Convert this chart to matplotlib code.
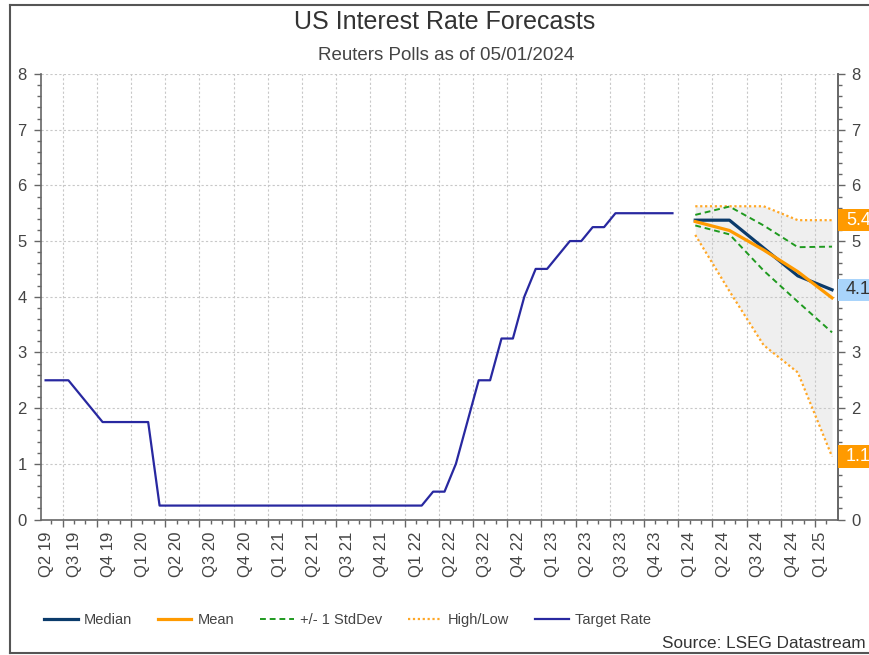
import numpy as np
import matplotlib
matplotlib.use("Agg")
import matplotlib.pyplot as plt
from matplotlib.lines import Line2D
from matplotlib.patches import Rectangle
from matplotlib.ticker import MultipleLocator, FuncFormatter
import matplotlib.transforms as mtransforms

plt.rcParams["font.family"] = ["Liberation Sans", "DejaVu Sans"]

# quarter tick labels along the x axis
quarter_labels = [
    "Q2 19", "Q3 19", "Q4 19", "Q1 20", "Q2 20", "Q3 20", "Q4 20",
    "Q1 21", "Q2 21", "Q3 21", "Q4 21", "Q1 22", "Q2 22", "Q3 22",
    "Q4 22", "Q1 23", "Q2 23", "Q3 23", "Q4 23", "Q1 24", "Q2 24",
    "Q3 24", "Q4 24", "Q1 25",
]

# fed target rate (upper bound), monthly, May 2019 .. Dec 2023
target_start = "May 19"
target_rate = (
    [2.5, 2.5, 2.5, 2.25, 2.0]
    + [1.75] * 5
    + [0.25] * 24
    + [0.5, 0.5, 1.0, 1.75, 2.5, 2.5, 3.25, 3.25, 4.0, 4.5, 4.5, 4.75,
       5.0, 5.0, 5.25, 5.25]
    + [5.5] * 6
)

# reuters poll forecasts by quarter
forecast_quarters = ["Q1 24", "Q2 24", "Q3 24", "Q4 24", "Q1 25"]
fc_median = [5.375, 5.375, 4.875, 4.375, 4.125]
fc_mean = [5.35, 5.19, 4.84, 4.45, 3.98]
fc_std_hi = [5.47, 5.62, 5.28, 4.89, 4.90]
fc_std_lo = [5.28, 5.12, 4.47, 3.91, 3.36]
fc_high = [5.625, 5.625, 5.625, 5.375, 5.375]
fc_low = [5.11, 4.10, 3.13, 2.64, 1.13]

MONTHS = ["Jan", "Feb", "Mar", "Apr", "May", "Jun",
          "Jul", "Aug", "Sep", "Oct", "Nov", "Dec"]


def quarter_start(label):
    # months since Jan 2019
    q, yy = label.split()
    return (int(yy) - 19) * 12 + (int(q[1]) - 1) * 3


def month_index(label):
    mon, yy = label.split()
    return (int(yy) - 19) * 12 + MONTHS.index(mon)


C_MEDIAN = "#0b3b6b"
C_MEAN = "#ff9a00"
C_STD = "#1f9a1f"
C_HL = "#ffa726"
C_TARGET = "#2828a0"
C_TEXT = "#444444"
C_AXIS = "#666666"

fig = plt.figure(figsize=(8.69, 6.55), dpi=100)
ax = fig.add_axes([40.7 / 869, 1 - 519.5 / 655, (837.5 - 40.7) / 869, (519.5 - 74) / 655])

# target rate, plotted mid-month
t0 = month_index(target_start)
tx = np.arange(t0, t0 + len(target_rate)) + 0.5
ax.plot(tx, target_rate, color=C_TARGET, lw=1.6, zorder=3)

# forecasts, plotted mid-quarter
fx = np.array([quarter_start(q) for q in forecast_quarters]) + 1.5
ax.fill_between(fx, fc_low, fc_high, color="#efefef", lw=0, zorder=1)
ax.plot(fx, fc_high, color=C_HL, lw=1.6, ls=(0, (1, 1.2)), zorder=3)
ax.plot(fx, fc_low, color=C_HL, lw=1.6, ls=(0, (1, 1.2)), zorder=3)
ax.plot(fx, fc_std_hi, color=C_STD, lw=1.4, ls=(0, (3, 2)), zorder=3)
ax.plot(fx, fc_std_lo, color=C_STD, lw=1.4, ls=(0, (3, 2)), zorder=3)
ax.plot(fx, fc_median, color=C_MEDIAN, lw=2.3, zorder=4)
ax.plot(fx, fc_mean, color=C_MEAN, lw=2.3, zorder=5)

# value flags on the right edge (they hide the right tick labels they sit on)
flags = [
    (fc_high[-1], "5.4", C_MEAN, "white"),
    (fc_median[-1], "4.1", "#a9d4fb", "#333333"),
    (fc_low[-1], "1.1", C_MEAN, "white"),
]

# axes
xmin, xmax = 4.07, 73.98
ax.set_xlim(xmin, xmax)
ax.set_ylim(0, 8)
qs = np.array([quarter_start(q) for q in quarter_labels])
ax.set_xticks(qs[qs > xmin])
ax.set_xticklabels([])
ax.xaxis.set_minor_locator(MultipleLocator(1))
ax.yaxis.set_major_locator(MultipleLocator(1))
ax.yaxis.set_minor_locator(MultipleLocator(0.2))
ax.grid(True, which="major", color="#c8c8c8", ls=(0, (2, 2)), lw=0.8)

for side in ["left", "right", "bottom"]:
    ax.spines[side].set_color(C_AXIS)
    ax.spines[side].set_linewidth(1.2)
ax.spines["top"].set_visible(False)

ax.tick_params(which="both", direction="out", color=C_AXIS, right=False,
               labelsize=12, labelcolor=C_TEXT)
ax.tick_params(which="major", length=5, width=1, pad=5)
ax.tick_params(which="minor", length=3, width=1)

# right-hand scale; labels under a flag are left blank
covered = [v for v, *_ in flags]


def right_fmt(v, pos):
    if any(abs(v - c) < 0.3 for c in covered):
        return ""
    return f"{v:g}"


sec = ax.secondary_yaxis("right")
sec.set_zorder(2)
sec.spines["right"].set_color(C_AXIS)
sec.spines["right"].set_linewidth(1.2)
sec.yaxis.set_major_locator(MultipleLocator(1))
sec.yaxis.set_minor_locator(MultipleLocator(0.2))
sec.yaxis.set_major_formatter(FuncFormatter(right_fmt))
sec.tick_params(which="both", direction="out", color=C_AXIS, labelsize=12, labelcolor=C_TEXT)
sec.tick_params(which="major", length=5, width=1, pad=5)
sec.tick_params(which="minor", length=3, width=1)

# rotated quarter labels, nudged inside the plot at both ends
label_x = np.clip(qs + 1, xmin + 0.5, xmax - 1.5)
for lx, lbl in zip(label_x, quarter_labels):
    ax.annotate(lbl, xy=(lx, 0), xycoords=ax.get_xaxis_transform(),
                xytext=(0, -8.5), textcoords="offset points",
                rotation=90, ha="center", va="top", fontsize=12, color=C_TEXT)

trans = mtransforms.blended_transform_factory(ax.transAxes, ax.transData)
for val, txt, bg, fg in flags:
    ax.add_patch(Rectangle((1.0, val - 0.2), 0.1, 0.4, transform=trans,
                           facecolor=bg, edgecolor="none", clip_on=False, zorder=6))
    ax.annotate(txt, xy=(1.0, val), xycoords=trans, xytext=(6, 0),
                textcoords="offset points", ha="left", va="center",
                fontsize=13, color=fg, zorder=7, annotation_clip=False)

# titles
fig.text(0.512, 1 - 22 / 655, "US Interest Rate Forecasts", ha="center", va="center",
         fontsize=18, color="#333333")
fig.text(0.513, 1 - 55 / 655, "Reuters Polls as of 05/01/2024", ha="center", va="center",
         fontsize=13.5, color=C_TEXT)

# legend
handles = [
    Line2D([], [], color=C_MEDIAN, lw=2.3),
    Line2D([], [], color=C_MEAN, lw=2.3),
    Line2D([], [], color=C_STD, lw=1.4, ls=(0, (3, 2))),
    Line2D([], [], color=C_HL, lw=1.6, ls=(0, (1, 1.2))),
    Line2D([], [], color=C_TARGET, lw=1.6),
]
names = ["Median", "Mean", "+/- 1 StdDev", "High/Low", "Target Rate"]
leg = fig.legend(handles, names, loc="center left", bbox_to_anchor=(44 / 869, 1 - 620 / 655),
                 ncol=5, frameon=False, fontsize=10.5, handlelength=2.3,
                 handletextpad=0.45, columnspacing=1.75, borderpad=0, borderaxespad=0)
for t in leg.get_texts():
    t.set_color(C_TEXT)

fig.text(866 / 869, 1 - 643 / 655, "Source: LSEG Datastream", ha="right", va="center",
         fontsize=12.3, color="#333333")

# outer frame
for xs, ys in [([10, 10], [5, 653]), ([10, 869], [5, 5]), ([10, 869], [653, 653])]:
    fig.add_artist(Line2D([x / 869 for x in xs], [1 - y / 655 for y in ys],
                          color="#555555", lw=1.5))

fig.savefig("out.png", dpi=100)
